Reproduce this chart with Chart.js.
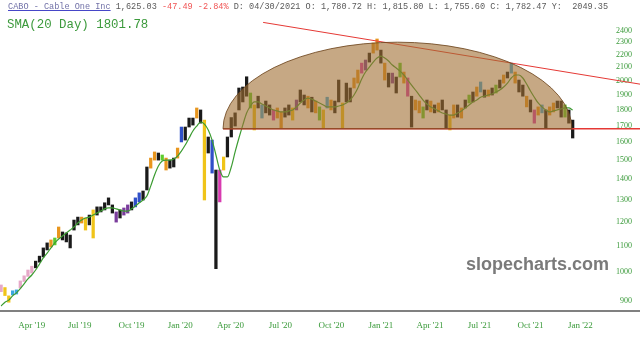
<!DOCTYPE html>
<html>
<head>
<meta charset="utf-8">
<script src="https://cdn.jsdelivr.net/npm/chart.js@4.4.1/dist/chart.umd.min.js"></script>
<style>
body { margin: 0; background: #fff; }
#wrap { position: relative; width: 640px; height: 341px; overflow: hidden; }
#chart { position: absolute; left: 0; top: 0; }
.hdr { position: absolute; white-space: pre; line-height: 1; font-family: 'Liberation Mono', monospace; }
#line1 { left: 8px; top: 3px; font-size: 8.55px; color: #5a5a5a; }
#line1 .tk { color: #7272a8; text-decoration: underline; text-decoration-color: #4646c8; }
#line1 .dn { color: #f05454; }
#line2 { left: 7px; top: 18.8px; font-size: 12.4px; color: #3c9a3c; }
#mark { position: absolute; left: 466px; top: 254px; font: bold 18px 'Liberation Sans', sans-serif; color: #7a7a7a; white-space: nowrap; }
</style>
</head>
<body>
<div id="wrap">
  <canvas id="chart" width="640" height="341"></canvas>
  <div class="hdr" id="line1"><span class="tk">CABO - Cable One Inc</span> 1,625.03 <span class="dn">-47.49 -2.84%</span> D: 04/30/2021 O: 1,780.72 H: 1,815.80 L: 1,755.60 C: 1,782.47 Y:  2049.35</div>
  <div class="hdr" id="line2">SMA(20 Day) 1801.78</div>
  <div id="mark">slopecharts.com</div>
</div>
<script>
// weekly bars, week 0 = first week of Apr '19
const firstWeek = -8;

const lows = [
  931, 918, 896, 920, 923, 944, 966, 984, 996, 1015,
  1036, 1056, 1083, 1095, 1103, 1131, 1123, 1115, 1091, 1164,
  1186, 1194, 1164, 1186, 1131, 1229, 1243, 1252, 1275, 1238,
  1198, 1216, 1229, 1238, 1252, 1266, 1289, 1298, 1346, 1457,
  1500, 1500, 1500, 1447, 1457, 1463, 1511, 1602, 1613, 1691,
  1703, 1747, 1715, 1298, 1539, 1431, 1012, 1289, 1447, 1517,
  1631, 1697, 1799, 1852, 1891, 1812, 1673, 1812, 1747, 1780,
  1766, 1734, 1747, 1685, 1753, 1766, 1734, 1799, 1852, 1832,
  1812, 1786, 1780, 1734, 1685, 1812, 1799, 1780, 1852, 1685,
  1852, 1852, 1948, 1983, 2056, 2079, 2140, 2211, 2235, 2132,
  2005, 1955, 1983, 1913, 2027, 1983, 1891, 1691, 1799, 1780,
  1747, 1799, 1786, 1780, 1786, 1799, 1685, 1673, 1747, 1753,
  1747, 1812, 1845, 1852, 1891, 1920, 1884, 1891, 1899, 1913,
  1948, 1983, 2020, 2056, 1983, 1920, 1891, 1819, 1786, 1715,
  1766, 1780, 1685, 1766, 1786, 1812, 1753, 1753, 1715, 1625
];

const highs = [
  954, 945, 917, 934, 937, 968, 986, 1007, 1021, 1040,
  1059, 1091, 1111, 1123, 1131, 1177, 1156, 1152, 1143, 1207,
  1220, 1220, 1216, 1229, 1252, 1266, 1266, 1285, 1308, 1275,
  1243, 1252, 1261, 1275, 1289, 1308, 1332, 1341, 1463, 1511,
  1545, 1539, 1528, 1511, 1500, 1511, 1567, 1691, 1691, 1747,
  1747, 1812, 1799, 1734, 1631, 1613, 1447, 1447, 1517, 1631,
  1750, 1780, 1948, 1955, 2029, 1913, 1832, 1891, 1832, 1858,
  1832, 1799, 1812, 1786, 1812, 1832, 1812, 1865, 1934, 1899,
  1891, 1884, 1858, 1819, 1799, 1884, 1865, 1858, 2005, 1845,
  1983, 1948, 2020, 2079, 2132, 2156, 2211, 2293, 2327, 2235,
  2132, 2056, 2056, 2027, 2132, 2064, 2020, 1891, 1865, 1858,
  1819, 1865, 1858, 1832, 1845, 1865, 1799, 1766, 1832, 1832,
  1812, 1865, 1899, 1920, 1955, 1991, 1934, 1934, 1948, 1969,
  2005, 2042, 2064, 2132, 2064, 2005, 1969, 1891, 1865, 1799,
  1819, 1832, 1799, 1819, 1845, 1858, 1858, 1832, 1799, 1734
];

const sma20 = [
  884, 896, 903, 917, 927, 941, 958, 975, 989, 1007,
  1029, 1052, 1071, 1091, 1111, 1127, 1139, 1152, 1164, 1177,
  1194, 1207, 1216, 1220, 1229, 1238, 1247, 1257, 1261, 1261,
  1257, 1252, 1247, 1247, 1257, 1270, 1285, 1298, 1317, 1365,
  1421, 1468, 1495, 1500, 1500, 1506, 1522, 1550, 1584, 1625,
  1667, 1697, 1722, 1709, 1673, 1613, 1528, 1447, 1411, 1411,
  1463, 1545, 1625, 1703, 1779, 1825, 1852, 1852, 1838, 1825,
  1812, 1799, 1793, 1786, 1786, 1793, 1799, 1819, 1845, 1865,
  1878, 1871, 1858, 1845, 1832, 1819, 1819, 1819, 1825, 1832,
  1845, 1865, 1899, 1948, 2013, 2064, 2101, 2140, 2172, 2187,
  2172, 2148, 2117, 2094, 2071, 2042, 2005, 1969, 1934, 1899,
  1865, 1838, 1819, 1806, 1793, 1779, 1773, 1766, 1766, 1779,
  1793, 1812, 1832, 1852, 1865, 1884, 1891, 1899, 1906, 1920,
  1934, 1955, 1983, 2020, 2042, 2042, 2020, 1976, 1927, 1884,
  1845, 1819, 1799, 1786, 1793, 1799, 1806, 1812, 1812, 1799
];

const barColors = (
  'l y y c c l l l l k ' +
  'k k k o g o k k k k ' +
  'k o y k y k k k k k ' +
  'p k p p k b b k k o ' +
  'o k g o k k o b k k ' +
  'k o k y k b k m y k ' +
  'k k k k k g y k c k ' +
  'k m o o k k y p k k ' +
  'o k o g y c o k k y ' +
  'k k o o m p k o o k ' +
  'o k p k g o m k o o ' +
  'g k o k o k k y o k ' +
  'o k g k o c k o k g ' +
  'k o k c o k k o k m ' +
  'o c k o o k k g k k').split(' ');

const palette = {
  k: '#1a1a1a', o: '#e8961e', y: '#f0c419', g: '#5ccc2e', b: '#3050c8',
  c: '#3aa8e0', p: '#7a3c9c', m: '#d83ab0', l: '#e6a8c8'
};

const xLabels = ["Apr '19", "Jul '19", "Oct '19", "Jan '20", "Apr '20", "Jul '20",
                 "Oct '20", "Jan '21", "Apr '21", "Jul '21", "Oct '21", "Jan '22"];
const xTickWeeks = [0, 12.5, 26, 38.7, 51.8, 64.8, 78.1, 91, 103.8, 116.7, 130, 143];
const yTicks = [900, 1000, 1100, 1200, 1300, 1400, 1500, 1600, 1700, 1800,
                1900, 2000, 2100, 2200, 2300, 2400];

// drawn studies
const hLinePrice = 1680, hLineStart = 49.85;
const trendP1 = [60.3, 2471], trendP2 = [125.9, 2128];
const domeStart = 49.85, domeEnd = 140.8, domeBase = 1680, domeTop = 2300;

const weeks = lows.map((v, i) => firstWeek + i);

const studies = {
  id: 'studies',
  afterDatasetsDraw(chart) {
    const {ctx, chartArea: a, scales: {x, y}} = chart;
    ctx.save();
    ctx.beginPath();
    ctx.rect(a.left, a.top, a.right - a.left, a.bottom - a.top);
    ctx.clip();

    // support line
    const hy = y.getPixelForValue(hLinePrice);
    ctx.strokeStyle = '#e53935';
    ctx.lineWidth = 1.5;
    ctx.beginPath();
    ctx.moveTo(x.getPixelForValue(hLineStart), hy);
    ctx.lineTo(a.right, hy);
    ctx.stroke();

    // falling trendline, extended to the right edge
    const x1 = x.getPixelForValue(trendP1[0]), y1 = y.getPixelForValue(trendP1[1]);
    const x2 = x.getPixelForValue(trendP2[0]), y2 = y.getPixelForValue(trendP2[1]);
    const k = (y2 - y1) / (x2 - x1);
    ctx.lineWidth = 1;
    ctx.beginPath();
    ctx.moveTo(x1, y1);
    ctx.lineTo(a.right, y1 + k * (a.right - x1));
    ctx.stroke();

    // dome
    const xa = x.getPixelForValue(domeStart), xb = x.getPixelForValue(domeEnd);
    const yb = y.getPixelForValue(domeBase), yt = y.getPixelForValue(domeTop);
    ctx.beginPath();
    ctx.ellipse((xa + xb) / 2, yb, (xb - xa) / 2, yb - yt, 0, Math.PI, 2 * Math.PI);
    ctx.closePath();
    ctx.fillStyle = 'rgba(160,110,50,0.6)';
    ctx.fill();
    ctx.strokeStyle = 'rgba(110,70,30,0.85)';
    ctx.lineWidth = 1;
    ctx.stroke();
    ctx.restore();
  }
};

new Chart(document.getElementById('chart'), {
  type: 'bar',
  data: {
    datasets: [
      {
        type: 'line',
        data: weeks.map((w, i) => ({x: w, y: sma20[i]})),
        borderColor: '#3c9c32',
        borderWidth: 1.2,
        pointRadius: 0,
        cubicInterpolationMode: 'monotone'
      },
      {
        type: 'bar',
        data: weeks.map((w, i) => ({x: w, y: [lows[i], highs[i]]})),
        backgroundColor: barColors.map(c => palette[c]),
        barThickness: 2.6
      }
    ]
  },
  options: {
    responsive: false,
    animation: false,
    devicePixelRatio: 1,
    layout: {padding: 0},
    plugins: {legend: {display: false}, tooltip: {enabled: false}},
    scales: {
      x: {
        type: 'linear',
        min: -8.29, max: 158.55,
        offset: false,
        grid: {display: false, drawTicks: false},
        border: {display: true, color: '#808080', width: 2},
        ticks: {
          autoSkip: false, maxRotation: 0, padding: 9.6,
          color: '#3a9a3a', font: {family: 'Liberation Serif', size: 9},
          callback: (v, i) => xLabels[i]
        },
        afterBuildTicks: s => { s.ticks = xTickWeeks.map(v => ({value: v})); },
        afterFit: s => { s.height = 30; s.paddingLeft = 0; s.paddingRight = 0; }
      },
      y: {
        type: 'logarithmic',
        position: 'right',
        min: 868, max: 2680,
        grid: {display: false, drawTicks: false},
        border: {display: false},
        ticks: {
          mirror: true, padding: -8, autoSkip: false,
          color: '#3a9a3a', font: {family: 'Liberation Serif', size: 8},
          callback: v => String(v)
        },
        afterBuildTicks: s => { s.ticks = yTicks.map(v => ({value: v})); },
        afterFit: s => { s.width = 0; s.paddingTop = 0; s.paddingBottom = 0; }
      }
    }
  },
  plugins: [studies]
});
</script>
</body>
</html>
